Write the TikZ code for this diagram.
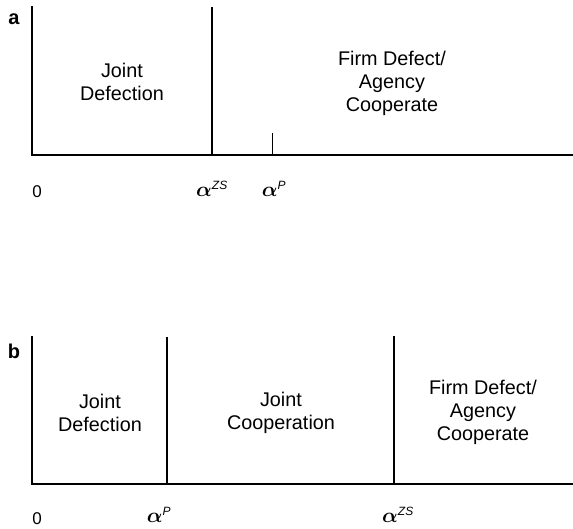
\documentclass[tikz,border=0pt]{standalone}
\usepackage{fontspec}
\setmainfont{Liberation Sans}
\begin{document}
\begin{tikzpicture}[x=1pt,y=-1pt,
  axis/.style={line width=1.4pt,line cap=rect},
  divider/.style={line width=1.3pt},
  region/.style={align=center,font=\fontsize{19.8}{23}\selectfont,inner sep=0pt},
  tick/.style={font=\fontsize{17}{20}\selectfont,inner sep=0pt},
  alab/.style={font=\fontsize{21}{24}\selectfont\boldmath,inner sep=0pt},
  panel/.style={font=\fontsize{20}{24}\selectfont\bfseries,inner sep=0pt}]
\useasboundingbox (0,0) rectangle (573,529);
% panel a
\coordinate (aO) at (32,155);
\coordinate (aTop) at (32,7);
\coordinate (aEnd) at (573,155);
\draw[axis] (aTop) -- (aO) -- (aEnd);
\draw[divider] (212,7) -- (212,155);
\draw[line width=1pt] (272,133) -- (272,155);
\node[panel] (la) at (14,19) {a};
\node[region] (a1) at (122,82) {Joint\\Defection};
\node[region] (a2) at (392,83) {Firm Defect/\\Agency\\Cooperate};
\node[tick] (a0) at (37,192) {0};
\node[alab] (azs) at (212,189) {$\alpha^{\textit{\fontsize{12}{12}\selectfont ZS}}$};
\node[alab] (ap) at (274,189) {$\alpha^{\textit{\fontsize{12}{12}\selectfont P}}$};
% panel b
\coordinate (bO) at (32,484);
\coordinate (bTop) at (32,337);
\coordinate (bEnd) at (573,484);
\draw[axis] (bTop) -- (bO) -- (bEnd);
\draw[divider] (167,337) -- (167,484);
\draw[divider] (394,336) -- (394,484);
\node[panel] (lb) at (14,351) {b};
\node[region] (b1) at (100,413) {Joint\\Defection};
\node[region] (b2) at (281,413) {Joint\\Cooperation};
\node[region] (b3) at (483,412) {Firm Defect/\\Agency\\Cooperate};
\node[tick] (b0) at (37,519) {0};
\node[alab] (bp) at (159,515) {$\alpha^{\textit{\fontsize{12}{12}\selectfont P}}$};
\node[alab] (bzs) at (398,515) {$\alpha^{\textit{\fontsize{12}{12}\selectfont ZS}}$};
\end{tikzpicture}
\end{document}
